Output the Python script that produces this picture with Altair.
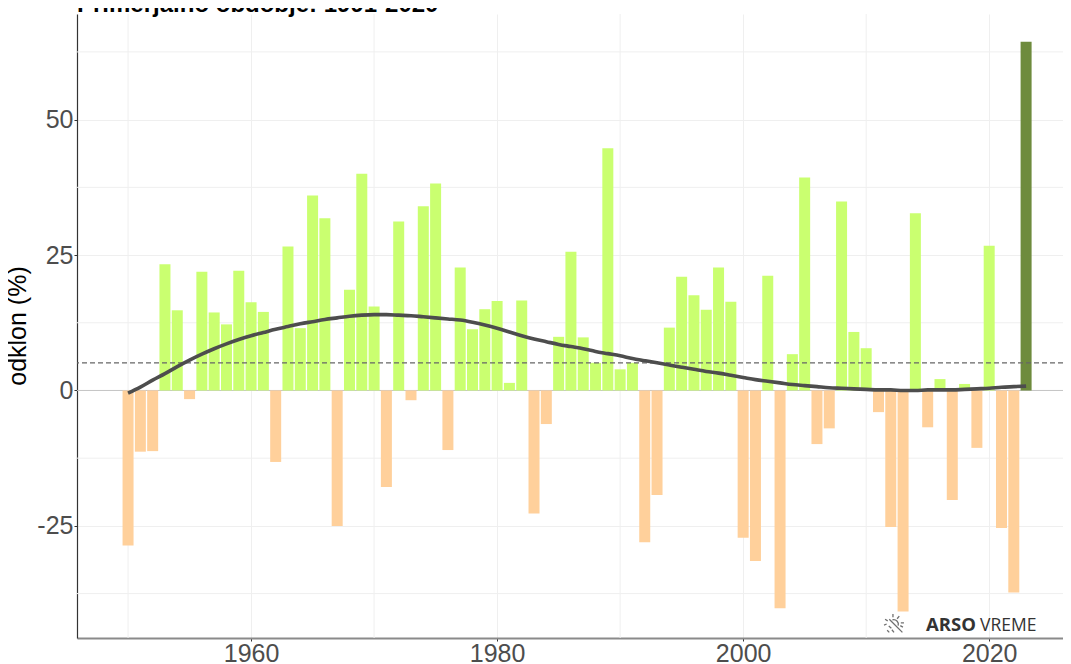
import altair as alt
import pandas as pd

years = list(range(1950, 2024))
values = [-28.6,-11.3,-11.2,23.3,14.8,-1.6,21.9,14.4,12.2,22.1,16.3,14.5,-13.2,26.6,11.5,36.0,31.8,-25.0,18.6,40.0,
          15.5,-17.8,31.2,-1.8,34.0,38.2,-11.0,22.7,11.3,15.0,16.5,1.4,16.6,-22.7,-6.2,9.9,25.6,9.8,5.1,44.7,
          3.9,5.1,-28.0,-19.3,11.6,21.0,17.6,14.9,22.7,16.4,-27.2,-31.5,21.2,-40.2,6.7,39.3,-9.9,-7.0,34.9,10.8,
          7.8,-4.0,-25.2,-40.8,32.7,-6.8,2.1,-20.2,1.2,-10.6,26.7,-25.4,-37.3,64.4]
trend = [-0.5,0.6,1.9,3.1,4.4,5.6,6.7,7.7,8.6,9.4,10.1,10.7,11.3,11.8,12.3,12.7,13.1,13.4,13.7,13.9,
         14.0,14.0,13.9,13.8,13.6,13.4,13.2,13.0,12.6,12.1,11.5,10.8,10.1,9.5,9.0,8.5,8.1,7.7,7.2,6.8,
         6.4,5.9,5.5,5.1,4.7,4.3,3.9,3.5,3.2,2.8,2.4,2.0,1.7,1.4,1.1,0.9,0.7,0.5,0.4,0.3,
         0.2,0.1,0.1,0.0,0.0,0.1,0.1,0.1,0.2,0.3,0.4,0.6,0.7,0.8]
x_major = [1960, 1980, 2000, 2020]
x_minor = [1950, 1970, 1990, 2010]
y_major = [-25, 0, 25, 50]
y_minor = [-37.5, -12.5, 12.5, 37.5, 62.5]
reference_level = 5.1
title_text = "Primerjalno obdobje: 1991-2020"
GRID = "#EFEFEF"

def cat(y, v):
    if y == 2023:
        return "now"
    return "pos" if v >= 0 else "neg"

df = pd.DataFrame({"year": years, "value": values, "trend": trend,
                   "kind": [cat(y, v) for y, v in zip(years, values)]})

xs = alt.Scale(domain=[1945.85, 2026.65], nice=False, zero=False, padding=0)
ys = alt.Scale(domain=[-45.7, 69.5], nice=False, zero=False, padding=0)

x_axis = alt.Axis(values=x_major, format="d", title=None, grid=True, gridColor=GRID, gridWidth=1,
                  labelFontSize=25, labelColor="#4D4D4D", labelFont="Liberation Sans", labelPadding=0,
                  tickSize=3, tickColor="#333333", domainColor="#8A8A8A", domainWidth=2, labelFlush=False)
y_axis = alt.Axis(values=y_major, title="odklon (%)", grid=True, gridColor=GRID, gridWidth=1,
                  labelFontSize=25, labelColor="#4D4D4D", labelFont="Liberation Sans", labelPadding=1,
                  labelExpr="replace(datum.label, '−', '-')",
                  tickSize=3, tickColor="#333333", domainColor="#333333", domainWidth=1.2,
                  titleFontSize=25, titleFont="Liberation Sans", titleFontWeight="normal",
                  titleColor="#000000", titleX=-47, titleY=311.5, titleAnchor="middle")

minor_x = alt.Chart(pd.DataFrame({"x": x_minor})).mark_rule(color=GRID, strokeWidth=1).encode(
    x=alt.X("x:Q", scale=xs, axis=x_axis))
minor_y = alt.Chart(pd.DataFrame({"y": y_minor})).mark_rule(color=GRID, strokeWidth=1).encode(
    y=alt.Y("y:Q", scale=ys, axis=y_axis))

bars = alt.Chart(df).mark_bar(size=11).encode(
    x=alt.X("year:Q", scale=xs, axis=x_axis),
    y=alt.Y("value:Q", scale=ys, axis=y_axis),
    y2=alt.Y2(datum=0),
    color=alt.Color("kind:N", legend=None,
                    scale=alt.Scale(domain=["pos", "neg", "now"],
                                    range=["#CAFF70", "#FFD09B", "#6E8B3D"])),
)
zero = alt.Chart(pd.DataFrame({"y": [0]})).mark_rule(color="#C4C4C4", strokeWidth=1).encode(
    y=alt.Y("y:Q", scale=ys, axis=y_axis))
ref = alt.Chart(pd.DataFrame({"y": [reference_level]})).mark_rule(
    color="#666666", strokeWidth=1.2, strokeDash=[5, 3]).encode(y=alt.Y("y:Q", scale=ys, axis=y_axis))
line = alt.Chart(df).mark_line(color="#4D4D4D", strokeWidth=3.6, interpolate="monotone").encode(
    x=alt.X("year:Q", scale=xs, axis=x_axis),
    y=alt.Y("trend:Q", scale=ys, axis=y_axis))

title = alt.Chart(pd.DataFrame({"t": [title_text]})).mark_text(
    align="left", baseline="alphabetic", font="Liberation Sans", fontWeight="bold", fontSize=24,
    color="#000000").encode(x=alt.value(0), y=alt.value(-2), text="t:N")

logo_a = alt.Chart(pd.DataFrame({"t": ["ARSO"]})).mark_text(
    align="left", baseline="alphabetic", font="Open Sans", fontWeight="bold", fontSize=18.5,
    color="#333333").encode(x=alt.value(849), y=alt.value(617), text="t:N")
logo_b = alt.Chart(pd.DataFrame({"t": ["VREME"]})).mark_text(
    align="left", baseline="alphabetic", font="Open Sans", fontSize=17.5,
    color="#333333").encode(x=alt.value(903), y=alt.value(617), text="t:N")
sun_path = ("M-0.45,-0.45 L0.8,0.8 M-0.15,-0.4 A0.45,0.45 0 0 1 0.4,0.15 M-0.1,-0.95 L-0.1,-0.65 "
            "M0.5,-0.75 L0.3,-0.5 M0.95,-0.1 L0.65,-0.1 M-0.85,-0.45 L-0.6,-0.3 "
            "M-0.95,0.1 L-0.7,0.0 M-0.5,0.2 L-0.25,0.4 M-0.2,0.55 L0,0.8 M-0.65,0.6 L-0.45,0.8 M0.6,0.15 L0.85,0.3")
icon = alt.Chart(pd.DataFrame({"s": [1]})).mark_point(
    shape=sun_path, size=440, filled=False, color="#333333", strokeWidth=1.3).encode(
    x=alt.value(817), y=alt.value(610))

chart = alt.layer(minor_x, minor_y, zero, bars, ref, line, title, icon, logo_a, logo_b).properties(
    width=994, height=624,
    padding={"left": 69, "top": 6, "right": -8, "bottom": 26},
    autosize=alt.AutoSizeParams(type="none"),
).configure_view(stroke=None)

chart.save("out.html", embed_options={"renderer": "svg", "actions": False})
